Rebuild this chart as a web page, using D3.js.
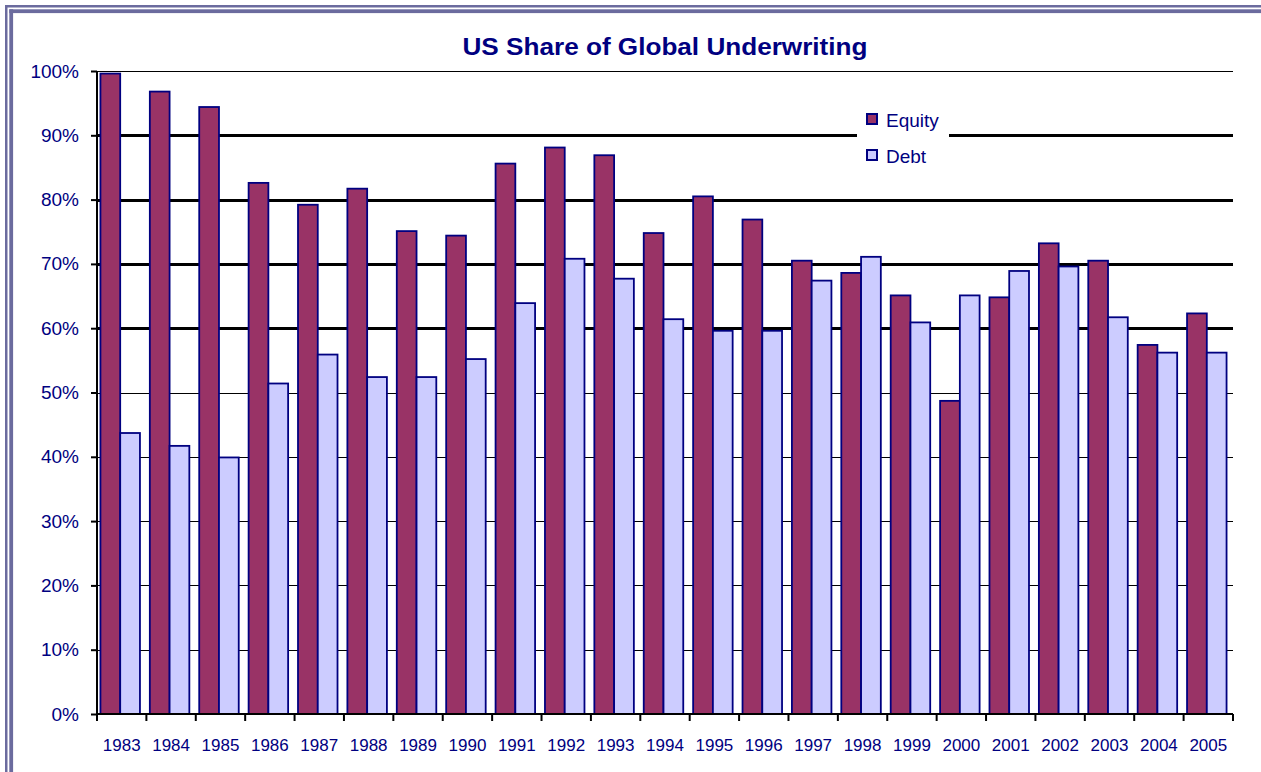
<!DOCTYPE html>
<html>
<head>
<meta charset="utf-8">
<script src="https://cdn.jsdelivr.net/npm/d3@7"></script>
<style>
  body { margin: 0; background: #fff; }
  text { font-family: "Liberation Sans", Arial, sans-serif; fill: #000080; }
</style>
</head>
<body>
<script>
// data
var years = ["1983","1984","1985","1986","1987","1988","1989","1990","1991","1992","1993","1994",
             "1995","1996","1997","1998","1999","2000","2001","2002","2003","2004","2005"];
var equity = [99.6, 96.8, 94.4, 82.6, 79.2, 81.7, 75.1, 74.4, 85.6, 88.1, 86.9, 74.8,
              80.5, 76.9, 70.5, 68.6, 65.1, 48.7, 64.8, 73.2, 70.5, 57.4, 62.3];
var debt   = [43.7, 41.7, 39.9, 51.4, 55.9, 52.4, 52.4, 55.2, 63.9, 70.8, 67.7, 61.4,
              59.6, 59.6, 67.4, 71.1, 60.9, 65.1, 68.9, 69.6, 61.7, 56.2, 56.2];
var seriesNames = ["Equity", "Debt"];
var seriesColors = ["#993366", "#ccccff"];
var yTicks = [0, 10, 20, 30, 40, 50, 60, 70, 80, 90, 100];

var W = 1261, H = 772;
var margin = {top: 71, right: 28, bottom: 58, left: 97},
    width = W - margin.left - margin.right,
    height = H - margin.top - margin.bottom;

var svg = d3.select("body").append("svg")
    .attr("width", W)
    .attr("height", H);

// double frame on the top and left edges
var frame = "#6b6b9e";
svg.append("rect").attr("x", 5).attr("y", 5).attr("width", W).attr("height", 2.5).attr("fill", frame);
svg.append("rect").attr("x", 5).attr("y", 5).attr("width", 2.5).attr("height", H).attr("fill", frame);
svg.append("rect").attr("x", 9.3).attr("y", 9.3).attr("width", W).attr("height", 3.8).attr("fill", frame);
svg.append("rect").attr("x", 9.3).attr("y", 9.3).attr("width", 3.8).attr("height", H).attr("fill", frame);

var g = svg.append("g")
    .attr("transform", "translate(" + margin.left + "," + margin.top + ")");

var x0 = d3.scaleBand().domain(years).range([0, width]).paddingInner(0.2).paddingOuter(0.1);
var xEdge = d3.scaleBand().domain(years).range([0, width]).padding(0);
var x1 = d3.scaleBand().domain(seriesNames).range([0, x0.bandwidth()]);
var y = d3.scaleLinear().domain([0, 100]).range([height, 0]);

// gridlines
g.selectAll(".grid")
  .data(yTicks.filter(function(d) { return d > 0; }))
  .enter().append("line")
    .attr("x1", 0).attr("x2", width)
    .attr("y1", function(d) { return Math.round(y(d)); })
    .attr("y2", function(d) { return Math.round(y(d)); })
    .attr("stroke", "#000")
    .attr("shape-rendering", "crispEdges")
    .attr("stroke-width", function(d) { return (d >= 60 && d <= 90) ? 3 : 1; });

// bars
var rows = years.map(function(yr, i) { return {year: yr, values: [equity[i], debt[i]]}; });
var groups = g.selectAll(".grp")
  .data(rows)
  .enter().append("g")
    .attr("transform", function(d) { return "translate(" + (x0(d.year) - 1.5) + ",0)"; });
groups.selectAll("rect")
  .data(function(d) { return d.values.map(function(v, k) { return {name: seriesNames[k], v: v, k: k}; }); })
  .enter().append("rect")
    .attr("x", function(d) { return x1(d.name); })
    .attr("y", function(d) { return y(d.v); })
    .attr("width", x1.bandwidth())
    .attr("height", function(d) { return height - y(d.v); })
    .attr("fill", function(d) { return seriesColors[d.k]; })
    .attr("stroke", "#000080")
    .attr("stroke-width", 1.8);

// y axis
var yAxis = g.append("g")
    .call(d3.axisLeft(y).tickValues(yTicks).tickSize(6).tickPadding(12)
      .tickFormat(function(d) { return d + "%"; }));
yAxis.select(".domain").attr("stroke", "#000").attr("stroke-width", 2).attr("d", "M0," + y(100) + "V" + height);
yAxis.selectAll(".tick line").attr("stroke", "#000").attr("stroke-width", 2);
yAxis.selectAll("text").style("font-size", "19px").attr("fill", "#000080");

// x axis: ticks between categories
var xAxis = g.append("g").attr("transform", "translate(0," + height + ")");
xAxis.append("line").attr("x1", 0).attr("x2", width).attr("stroke", "#000").attr("stroke-width", 2);
var edges = years.map(function(d) { return xEdge(d); }).concat([width]);
xAxis.selectAll(".xt")
  .data(edges)
  .enter().append("line")
    .attr("x1", function(d) { return d; }).attr("x2", function(d) { return d; })
    .attr("y1", 0).attr("y2", 7)
    .attr("stroke", "#000").attr("stroke-width", 2);
xAxis.selectAll(".xl")
  .data(years)
  .enter().append("text")
    .attr("x", function(d) { return xEdge(d) + xEdge.bandwidth() / 2; })
    .attr("y", 37)
    .attr("text-anchor", "middle")
    .style("font-size", "17px")
    .text(function(d) { return d; });

// title
svg.append("text")
    .attr("x", margin.left + width / 2).attr("y", 55)
    .attr("text-anchor", "middle")
    .attr("textLength", 405)
    .attr("lengthAdjust", "spacingAndGlyphs")
    .style("font-size", "24px")
    .style("font-weight", "bold")
    .text("US Share of Global Underwriting");

// legend
var legend = svg.append("g").attr("transform", "translate(857,100)");
legend.append("rect").attr("width", 92).attr("height", 72).attr("fill", "#fff");
var li = legend.selectAll(".li")
  .data(seriesNames)
  .enter().append("g")
    .attr("transform", function(d, i) { return "translate(0," + i * 36 + ")"; });
li.append("rect")
    .attr("x", 10).attr("y", 14).attr("width", 10).attr("height", 10)
    .attr("fill", function(d, i) { return seriesColors[i]; })
    .attr("stroke", "#000080").attr("stroke-width", 2);
li.append("text")
    .attr("x", 29).attr("y", 26.5)
    .style("font-size", "19px")
    .text(function(d) { return d; });
</script>
</body>
</html>
